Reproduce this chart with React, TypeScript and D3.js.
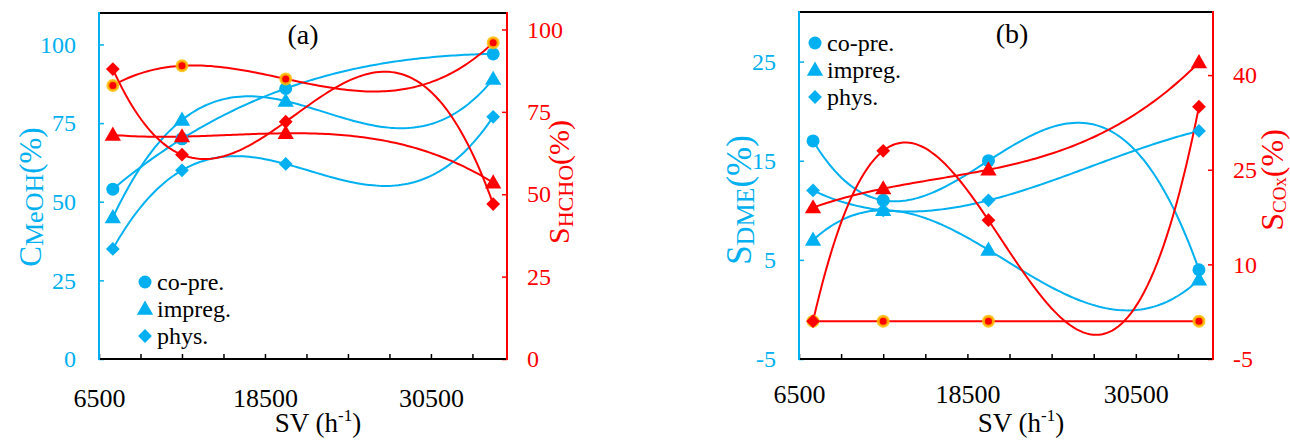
import React, { useEffect, useRef } from 'react';
import * as d3 from 'd3';

// space velocity of the four runs (h-1)
const svPoints = [7500, 12500, 20000, 35000];
const svTickLabels = [6500, 18500, 30500];
const seriesNames = ['co-pre.', 'impreg.', 'phys.'];

// (a) methanol conversion, left axis
const meohCoPre = [54, 70, 86, 97];
const meohImpreg = [45, 76, 82, 89];
const meohPhys = [35, 60, 62, 77];
// (a) HCHO selectivity, right axis
const hchoCoPre = [83, 89, 85, 96];
const hchoImpreg = [68, 67.5, 68.5, 53.5];
const hchoPhys = [88, 62, 72, 47];

// (b) DME selectivity, left axis
const dmeCoPre = [17, 11, 15, 4];
const dmeImpreg = [7, 10, 6, 3];
const dmePhys = [12, 10, 11, 18];
// (b) COx selectivity, right axis
const coxCoPre = [1, 1, 1, 1];
const coxImpreg = [19, 22, 25, 42];
const coxPhys = [1, 28, 17, 35];

const meohTicks = [0, 25, 50, 75, 100];
const hchoTicks = [0, 25, 50, 75, 100];
const dmeTicks = [-5, 5, 15, 25];
const coxTicks = [-5, 10, 25, 40];

const BLUE = '#00B0F0';
const RED = '#FF0000';
const HALO = '#FFC000';
const FONT = "'Liberation Serif', 'Times New Roman', 'DejaVu Serif', serif";

// cubic through the four points, like the trend lines of the original
function cubicThrough(xs: number[], ys: number[]) {
  return (x: number) => {
    let sum = 0;
    for (let i = 0; i < xs.length; i++) {
      let term = ys[i];
      for (let j = 0; j < xs.length; j++) {
        if (j !== i) term *= (x - xs[j]) / (xs[i] - xs[j]);
      }
      sum += term;
    }
    return sum;
  };
}

const panels = [
  {
    name: '(a)', left: 99, right: 507, top: 13, bottom: 359,
    leftDomain: [0, 110], rightDomain: [0, 105],
    leftTicks: meohTicks, rightTicks: hchoTicks,
    leftSeries: [meohCoPre, meohImpreg, meohPhys],
    rightSeries: [hchoCoPre, hchoImpreg, hchoPhys],
    leftTitle: { main: 'C', sub: 'MeOH', x: 41, y: 197, size: 31, subSize: 26, dy: 2 },
    rightTitle: { main: 'S', sub: 'HCHO', x: 569, y: 182, size: 30, subSize: 22, dy: 4 },
    labelPos: [303, 44], legend: { x: 145, y: 282 }, xPad: 30, xTitleY: 432,
  },
  {
    name: '(b)', left: 799, right: 1213, top: 12, bottom: 359,
    leftDomain: [-5, 30], rightDomain: [-5, 50],
    leftTicks: dmeTicks, rightTicks: coxTicks,
    leftSeries: [dmeCoPre, dmeImpreg, dmePhys],
    rightSeries: [coxCoPre, coxImpreg, coxPhys],
    leftTitle: { main: 'S', sub: 'DME', x: 751, y: 200, size: 35, subSize: 26, dy: 3 },
    rightTitle: { main: 'S', sub: 'COx', x: 1283, y: 180, size: 32, subSize: 19, dy: 3 },
    labelPos: [1012, 43], legend: { x: 815, y: 43 }, xPad: 26, xTitleY: 432,
  },
];

function drawMarker(g, kind: number, cx: number, cy: number, color: string, halo = false) {
  if (kind === 0) {
    g.append('circle')
      .attr('cx', cx).attr('cy', cy)
      .attr('r', halo ? 5 : 6.5)
      .attr('fill', color)
      .attr('stroke', halo ? HALO : 'none')
      .attr('stroke-width', halo ? 3 : 0)
      .attr('stroke-opacity', 0.85);
  } else if (kind === 1) {
    g.append('path')
      .attr('d', d3.symbol().type(d3.symbolTriangle).size(115)())
      .attr('transform', `translate(${cx},${cy + 1})`)
      .attr('fill', color);
  } else {
    g.append('path')
      .attr('d', d3.symbol().type(d3.symbolSquare).size(95)())
      .attr('transform', `translate(${cx},${cy}) rotate(45)`)
      .attr('fill', color);
  }
}

function styleAxis(g, size: number, color: string) {
  g.select('.domain').remove();
  g.selectAll('line').attr('stroke-width', 1.5);
  g.attr('font-size', null).attr('font-family', null).style('color', color);
  g.selectAll('text').style('font-family', FONT).style('font-size', `${size}px`);
}

function drawPanel(svg, p) {
  const x = d3.scaleLinear().domain([6500, 36000]).range([p.left, p.right]);
  const yL = d3.scaleLinear().domain(p.leftDomain).range([p.bottom, p.top]);
  const yR = d3.scaleLinear().domain(p.rightDomain).range([p.bottom, p.top]);

  // bottom axis: ticks every 3000, labels every 12000
  svg.append('g')
    .attr('transform', `translate(0,${p.bottom})`)
    .call(d3.axisBottom(x)
      .tickValues(d3.range(6500, 36000, 3000))
      .tickSize(-5).tickSizeOuter(0).tickPadding(p.xPad)
      .tickFormat((d) => (svTickLabels.includes(+d) ? String(d) : '')))
    .call((g) => styleAxis(g, 26, '#000'));

  svg.append('g')
    .attr('transform', `translate(${p.left},0)`)
    .call(d3.axisLeft(yL).tickValues(p.leftTicks).tickFormat((d) => String(d))
      .tickSize(-5).tickSizeOuter(0).tickPadding(23))
    .call((g) => styleAxis(g, 24, BLUE));

  svg.append('g')
    .attr('transform', `translate(${p.right},0)`)
    .call(d3.axisRight(yR).tickValues(p.rightTicks).tickFormat((d) => String(d))
      .tickSize(-5).tickSizeOuter(0).tickPadding(20))
    .call((g) => styleAxis(g, 24, RED));

  // frame
  const frame = [
    [p.left, p.top, p.right, p.top, '#000'],
    [p.left, p.bottom, p.right, p.bottom, '#000'],
    [p.left, p.top, p.left, p.bottom, BLUE],
    [p.right, p.top, p.right, p.bottom, RED],
  ];
  frame.forEach(([x1, y1, x2, y2, c]) => {
    svg.append('line')
      .attr('x1', x1).attr('y1', y1).attr('x2', x2).attr('y2', y2)
      .attr('stroke', c).attr('stroke-width', 2).attr('stroke-linecap', 'square');
  });

  // trend lines
  const first = svPoints[0];
  const last = svPoints[svPoints.length - 1];
  const samples = d3.range(121).map((i) => first + ((last - first) * i) / 120);
  const groups = [
    { series: p.leftSeries, y: yL, color: BLUE },
    { series: p.rightSeries, y: yR, color: RED },
  ];
  groups.forEach(({ series, y, color }) => {
    series.forEach((vals) => {
      const f = cubicThrough(svPoints, vals);
      svg.append('path')
        .datum(samples)
        .attr('d', d3.line<number>().x((d) => x(d)).y((d) => y(f(d))))
        .attr('fill', 'none')
        .attr('stroke', color)
        .attr('stroke-width', 2);
    });
  });

  // markers
  const marks = svg.append('g');
  groups.forEach(({ series, y, color }) => {
    series.forEach((vals, k) => {
      vals.forEach((v, i) => {
        drawMarker(marks, k, x(svPoints[i]), y(v), color, color === RED && k === 0);
      });
    });
  });

  // legend
  seriesNames.forEach((name, k) => {
    const ly = p.legend.y + k * 27;
    drawMarker(svg, k, p.legend.x, ly, BLUE);
    svg.append('text')
      .attr('x', p.legend.x + 12).attr('y', ly + 8)
      .style('font-family', FONT).style('font-size', '24px').attr('fill', '#000')
      .text(name);
  });

  // panel label
  svg.append('text')
    .attr('x', p.labelPos[0]).attr('y', p.labelPos[1])
    .attr('text-anchor', 'middle')
    .style('font-family', FONT).style('font-size', '28px').attr('fill', '#000')
    .text(p.name);

  // axis titles
  [[p.leftTitle, BLUE], [p.rightTitle, RED]].forEach(([t, color]) => {
    const txt = svg.append('text')
      .attr('transform', `translate(${t.x},${t.y}) rotate(-90)`)
      .attr('text-anchor', 'middle')
      .style('font-family', FONT).style('font-size', `${t.size}px`).attr('fill', color);
    txt.append('tspan').text(t.main);
    txt.append('tspan').style('font-size', `${t.subSize}px`).attr('dy', t.dy).text(t.sub);
    txt.append('tspan').style('font-size', `${t.size}px`).attr('dy', -t.dy).text('(%)');
  });

  const xt = svg.append('text')
    .attr('x', (p.left + p.right) / 2 + 15).attr('y', p.xTitleY)
    .attr('text-anchor', 'middle')
    .style('font-family', FONT).style('font-size', '27px').attr('fill', '#000');
  xt.append('tspan').text('SV (h');
  xt.append('tspan').style('font-size', '17px').attr('dy', -11).text('-1');
  xt.append('tspan').style('font-size', '27px').attr('dy', 11).text(')');
}

const App = () => {
  const ref = useRef<SVGSVGElement>(null);

  useEffect(() => {
    const svg = d3.select(ref.current);
    svg.selectAll('*').remove();
    svg.append('rect').attr('width', 1290).attr('height', 441).attr('fill', '#fff');
    panels.forEach((p) => drawPanel(svg, p));
  }, []);

  return (
    <svg
      ref={ref}
      width={1290}
      height={441}
      style={{ position: 'absolute', left: 0, top: 0, display: 'block' }}
    />
  );
};

export default App;
